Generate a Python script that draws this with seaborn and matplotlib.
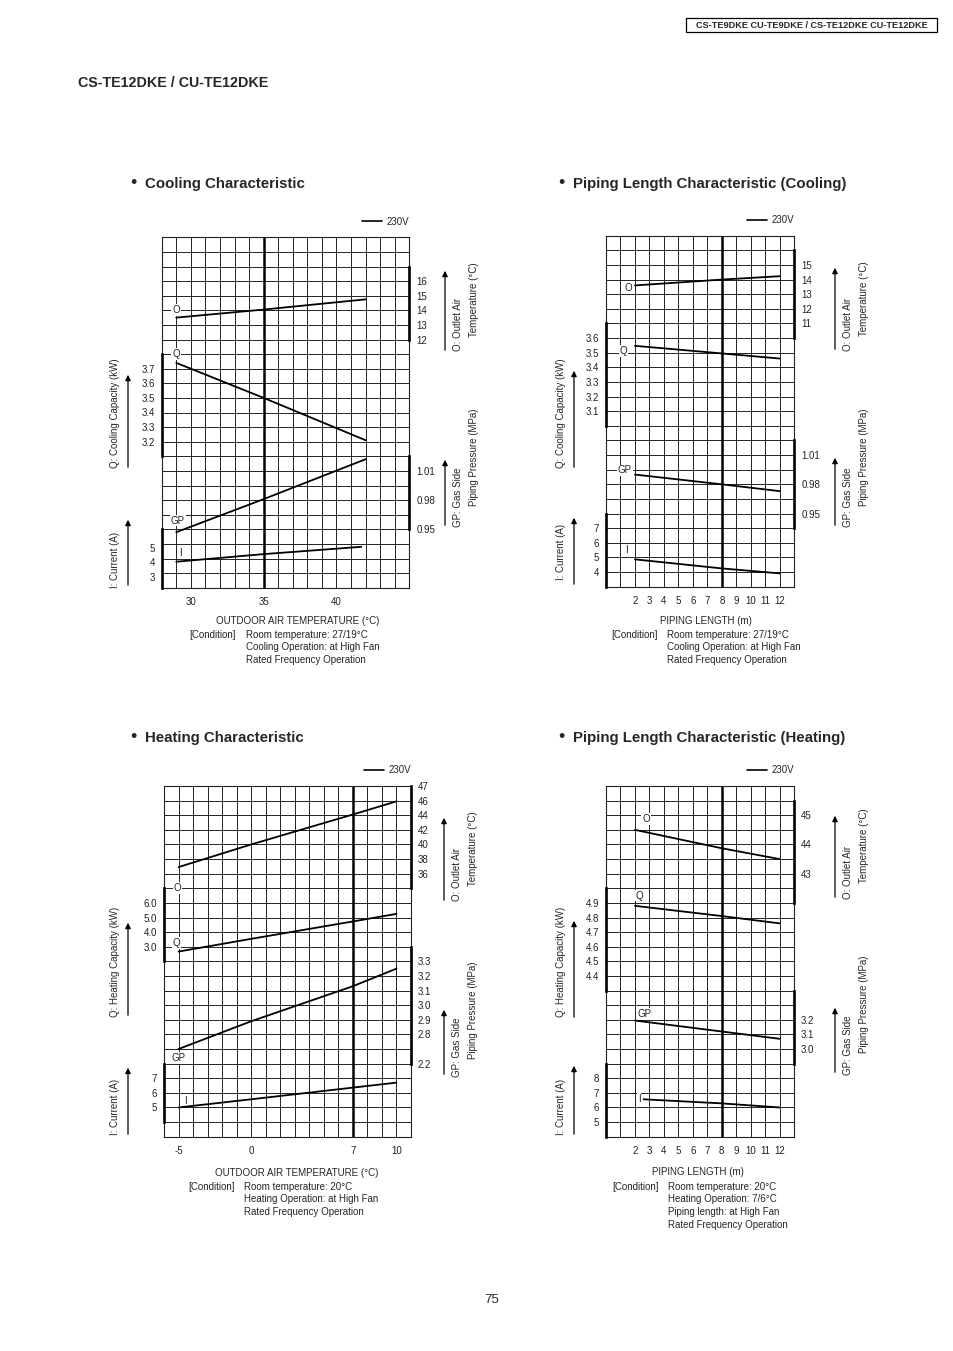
import numpy as np
import matplotlib
matplotlib.use("Agg")
import matplotlib.pyplot as plt
import seaborn as sns
from matplotlib.lines import Line2D
from matplotlib.patches import Rectangle

sns.set_theme(style="white")
plt.rcParams['font.family'] = ['Liberation Sans', 'DejaVu Sans']

W, H = 954, 1351
ROWS = 24

# ---- Cooling characteristic (x: outdoor air temperature, degC) ----
cool_x = [29, 35, 42]
cool_outlet = [13.5, 14.05, 14.75]
cool_capacity = [3.74, 3.50, 3.21]
cool_pressure = [0.947, 0.981, 1.022]
cool_current_x = [29, 35, 41.7]
cool_current = [4.03, 4.55, 5.05]

# ---- Piping length characteristic, cooling (x: piping length, m) ----
pipe_c_x = [2, 8, 12]
pipe_c_outlet = [13.6, 14.0, 14.23]
pipe_c_capacity = [3.547, 3.495, 3.46]
pipe_c_pressure = [0.990, 0.980, 0.973]
pipe_c_current = [4.87, 4.25, 3.91]

# ---- Heating characteristic (x: outdoor air temperature, degC) ----
heat_x = [-5, 0, 7, 10]
heat_outlet = [36.9, 40.0, 44.1, 45.9]
heat_capacity = [2.67, 3.54, 4.73, 5.25]
heat_pressure = [2.70, 2.89, 3.13, 3.25]
heat_current = [5.0, 5.56, 6.36, 6.7]

# ---- Piping length characteristic, heating ----
pipe_h_x = [2, 8, 12]
pipe_h_outlet = [44.5, 43.87, 43.5]
pipe_h_capacity = [4.88, 4.81, 4.76]
pipe_h_pressure = [3.195, 3.12, 3.07]
pipe_h_current_x = [2.6, 8, 12]
pipe_h_current = [6.56, 6.28, 6.0]

# tick values / labels
cool_xticks = [30, 35, 40]
pipe_xticks = list(range(2, 13))
heat_xticks = [-5, 0, 7, 10]

cool_o_ticks = [12, 13, 14, 15, 16]
cool_q_ticks = [3.2, 3.3, 3.4, 3.5, 3.6, 3.7]
cool_gp_ticks = [0.95, 0.98, 1.01]
cool_i_ticks = [3, 4, 5]

pipe_c_o_ticks = [11, 12, 13, 14, 15]
pipe_c_q_ticks = [3.1, 3.2, 3.3, 3.4, 3.5, 3.6]
pipe_c_gp_ticks = [0.95, 0.98, 1.01]
pipe_c_i_ticks = [4, 5, 6, 7]

heat_o_ticks = [36, 38, 40, 42, 44, 46, 48]
heat_o_labels = ['36', '38', '40', '42', '44', '46', '47']
heat_q_ticks = [3, 4, 5, 6]
heat_q_labels = ['3.0', '4.0', '5.0', '6.0']
heat_gp_ticks = [2.6, 2.8, 2.9, 3.0, 3.1, 3.2, 3.3]
heat_gp_labels = ['2.2', '2.8', '2.9', '3.0', '3.1', '3.2', '3.3']
heat_i_ticks = [5, 6, 7]

pipe_h_o_ticks = [43, 44, 45]
pipe_h_q_ticks = [4.4, 4.5, 4.6, 4.7, 4.8, 4.9]
pipe_h_gp_ticks = [3.0, 3.1, 3.2]
pipe_h_gp_labels = ['3.0', '3.1', '3.2']
pipe_h_i_ticks = [5, 6, 7, 8]


fig = plt.figure(figsize=(W / 100, H / 100), dpi=100)
page = fig.add_axes([0, 0, 1, 1])
page.set_xlim(0, W)
page.set_ylim(H, 0)
page.axis('off')

TICK_FS = 7
TEXT_FS = 7


def px_rect(l, t, r, b):
    return [l / W, 1 - b / H, (r - l) / W, (b - t) / H]


def add_scale(ax, side, v0, r0, step, bar_rows, xs, ys, ticks, labels=None):
    # one value scale per curve, laid over the shared grid
    tw = ax.twinx()
    sns.lineplot(x=xs, y=ys, ax=tw, color='black', lw=1.3)
    tw.set_ylim(v0 - r0 * step, v0 + (ROWS - r0) * step)
    tw.yaxis.set_ticks_position(side)
    tw.set_yticks(ticks)
    if labels is None:
        labels = [('%g' % t) for t in ticks]
    tw.set_yticklabels(labels)
    for sp in tw.spines.values():
        sp.set_visible(False)
    tw.spines[side].set_visible(True)
    tw.spines[side].set_color('black')
    tw.spines[side].set_linewidth(1.9)
    tw.spines[side].set_bounds(v0 + (bar_rows[0] - r0) * step, v0 + (bar_rows[1] - r0) * step)
    tw.tick_params(axis='y', length=0, pad=5, labelsize=TICK_FS, colors='#222222')
    tw.set_ylabel('')
    tw.set_xlabel('')
    tw.grid(False)
    return tw


def draw_chart(rect, xlim, thick_x, xticks, scales, tags):
    ax = fig.add_axes(px_rect(*rect))
    ax.set_xlim(*xlim)
    ax.set_ylim(0, ROWS)
    ax.set_xticks(np.arange(xlim[0], xlim[1] + 1), minor=True)
    ax.set_yticks(np.arange(0, ROWS + 1), minor=True)
    ax.set_yticks([])
    ax.set_xticks(xticks)
    ax.set_xticklabels([str(t) for t in xticks])
    ax.grid(True, which='both', color='#222222', lw=0.7)
    ax.tick_params(which='both', length=0)
    ax.tick_params(axis='x', labelsize=TICK_FS, pad=7, colors='#222222')
    ax.axvline(thick_x, color='black', lw=1.8)
    for sp in ax.spines.values():
        sp.set_color('#222222')
        sp.set_linewidth(0.8)
    for sc in scales:
        add_scale(ax, *sc)
    for txt, x, r in tags:
        ax.text(x, r, txt, ha='center', va='center', fontsize=TEXT_FS, color='#222222',
                bbox=dict(facecolor='white', edgecolor='none', pad=0.6), zorder=5)
    ax.legend(handles=[Line2D([0], [0], color='black', lw=1.2)], labels=['230V'],
              loc='lower right', bbox_to_anchor=(1.0, 1.03), frameon=False, fontsize=TICK_FS,
              handlelength=2.0, handletextpad=0.5, borderaxespad=0, borderpad=0)
    ax.set_xlim(*xlim)
    return ax


def side_labels(xl, xr, q_label, q_y, q_arrow, i_y, i_arrow, o_y1, o_y2, o_arrow, gp_y1, gp_y2, gp_arrow):
    page.text(xl, q_y, q_label, rotation=90, ha='center', va='center', fontsize=TEXT_FS)
    page.text(xl, i_y, 'I: Current (A)', rotation=90, ha='center', va='center', fontsize=TEXT_FS)
    page.text(xr, o_y1, 'O: Outlet Air', rotation=90, ha='center', va='center', fontsize=TEXT_FS)
    page.text(xr + 16, o_y2, 'Temperature (°C)', rotation=90, ha='center', va='center', fontsize=TEXT_FS)
    page.text(xr, gp_y1, 'GP: Gas Side', rotation=90, ha='center', va='center', fontsize=TEXT_FS)
    page.text(xr + 16, gp_y2, 'Piping Pressure (MPa)', rotation=90, ha='center', va='center', fontsize=TEXT_FS)
    for ax_x, (yb, yt) in [(xl + 13, q_arrow), (xl + 13, i_arrow), (xr - 13, o_arrow), (xr - 13, gp_arrow)]:
        page.annotate('', xy=(ax_x, yt), xytext=(ax_x, yb),
                      arrowprops=dict(arrowstyle='-|>', color='black', lw=0.9, mutation_scale=8))


def conditions(x_cond, x_text, y0, lines):
    page.text(x_cond, y0, '[Condition]', ha='left', va='center', fontsize=TEXT_FS)
    for k, ln in enumerate(lines):
        page.text(x_text, y0 + 12.5 * k, ln, ha='left', va='center', fontsize=TEXT_FS)


# ---- page header ----
page.add_patch(Rectangle((686, 18), 251, 14, fill=False, edgecolor='black', lw=0.9))
page.text(811.5, 25.5, 'CS-TE9DKE CU-TE9DKE / CS-TE12DKE CU-TE12DKE', ha='center', va='center',
          fontsize=6.6, fontweight='bold')
page.text(78, 83, 'CS-TE12DKE / CU-TE12DKE', ha='left', va='center', fontsize=10.3, fontweight='bold')
page.text(492, 1300, '75', ha='center', va='center', fontsize=9.5)

for bx, by, title in [(133, 184, 'Cooling Characteristic'), (561, 184, 'Piping Length Characteristic (Cooling)'),
                      (133, 738, 'Heating Characteristic'), (561, 738, 'Piping Length Characteristic (Heating)')]:
    page.text(bx, by, '•', ha='center', va='center', fontsize=13)
    page.text(bx + 12, by, title, ha='left', va='center', fontsize=10.8, fontweight='bold')

# ---- chart 1: cooling characteristic ----
draw_chart((161.7, 237.3, 409.3, 587.7), (28, 45), 35, cool_xticks,
           [('right', 12, 17, 1, (17, 22), cool_x, cool_outlet, cool_o_ticks),
            ('left', 3.2, 10, 0.1, (9, 16), cool_x, cool_capacity, cool_q_ticks),
            ('right', 0.95, 4, 0.015, (4, 9), cool_x, cool_pressure, cool_gp_ticks),
            ('left', 3, 0.75, 1, (0, 4), cool_current_x, cool_current, cool_i_ticks)],
           [('O', 28.98, 19.0), ('Q', 28.98, 16.0), ('GP', 29.1, 4.6), ('I', 29.26, 2.4)])
side_labels(115, 458, 'Q: Cooling Capacity (kW)', 413, (470, 372), 560, (588, 517),
            324, 300, (353, 268), 497, 457, (528, 457))
page.text(298, 621, 'OUTDOOR AIR TEMPERATURE (°C)', ha='center', va='center', fontsize=TEXT_FS)
conditions(189, 246, 635, ['Room temperature: 27/19°C', 'Cooling Operation: at High Fan',
                           'Rated Frequency Operation'])

# ---- chart 2: piping length (cooling) ----
draw_chart((606, 235.7, 794.3, 586.7), (0, 13), 8, pipe_xticks,
           [('right', 11, 18, 1, (17, 23), pipe_c_x, pipe_c_outlet, pipe_c_o_ticks),
            ('left', 3.1, 12, 0.1, (11, 18), pipe_c_x, pipe_c_capacity, pipe_c_q_ticks),
            ('right', 0.95, 5, 0.015, (4, 10), pipe_c_x, pipe_c_pressure, pipe_c_gp_ticks),
            ('left', 4, 1, 1, (0, 5), pipe_c_x, pipe_c_current, pipe_c_i_ticks)],
           [('O', 1.54, 20.4), ('Q', 1.2, 16.1), ('GP', 1.31, 7.95), ('I', 1.38, 2.5)])
side_labels(561, 848, 'Q: Cooling Capacity (kW)', 413, (470, 368), 552, (587, 515),
            324, 299, (352, 265), 497, 457, (528, 455))
page.text(706, 621, 'PIPING LENGTH (m)', ha='center', va='center', fontsize=TEXT_FS)
conditions(611, 667, 635, ['Room temperature: 27/19°C', 'Cooling Operation: at High Fan',
                           'Rated Frequency Operation'])

# ---- chart 3: heating characteristic ----
draw_chart((164, 786, 411, 1136.7), (-6, 11), 7, heat_xticks,
           [('right', 36, 18, 2, (17, 24), heat_x, heat_outlet, heat_o_ticks, heat_o_labels),
            ('left', 3.0, 13, 1, (12, 17), heat_x, heat_capacity, heat_q_ticks, heat_q_labels),
            ('right', 3.0, 9, 0.1, (5, 13), heat_x, heat_pressure, heat_gp_ticks, heat_gp_labels),
            ('left', 5, 2, 1, (1, 5), heat_x, heat_current, heat_i_ticks)],
           [('O', -5.08, 17.0), ('Q', -5.13, 13.24), ('GP', -5.0, 5.37), ('I', -4.55, 2.47)])
side_labels(115, 457, 'Q: Heating Capacity (kW)', 962, (1018, 920), 1107, (1137, 1065),
            874, 849, (903, 815), 1047, 1010, (1077, 1007))
page.text(297, 1173, 'OUTDOOR AIR TEMPERATURE (°C)', ha='center', va='center', fontsize=TEXT_FS)
conditions(188, 244, 1187, ['Room temperature: 20°C', 'Heating Operation: at High Fan',
                            'Rated Frequency Operation'])

# ---- chart 4: piping length (heating) ----
draw_chart((606, 786, 794, 1136.7), (0, 13), 8, pipe_xticks,
           [('right', 43, 18, 0.5, (16, 23), pipe_h_x, pipe_h_outlet, pipe_h_o_ticks),
            ('left', 4.4, 11, 0.1, (10, 17), pipe_h_x, pipe_h_capacity, pipe_h_q_ticks),
            ('right', 3.0, 6, 0.1, (5, 10), pipe_h_x, pipe_h_pressure, pipe_h_gp_ticks, pipe_h_gp_labels),
            ('left', 5, 1, 1, (0, 5), pipe_h_current_x, pipe_h_current, pipe_h_i_ticks)],
           [('O', 2.76, 21.75), ('Q', 2.3, 16.5), ('GP', 2.69, 8.4), ('I', 2.3, 2.56)])
side_labels(561, 848, 'Q: Heating Capacity (kW)', 962, (1020, 918), 1107, (1137, 1063),
            872, 846, (900, 813), 1045, 1004, (1075, 1005))
page.text(698, 1172, 'PIPING LENGTH (m)', ha='center', va='center', fontsize=TEXT_FS)
conditions(612, 668, 1187, ['Room temperature: 20°C', 'Heating Operation: 7/6°C',
                            'Piping length: at High Fan', 'Rated Frequency Operation'])

fig.savefig('out.png', dpi=100, facecolor='white')
